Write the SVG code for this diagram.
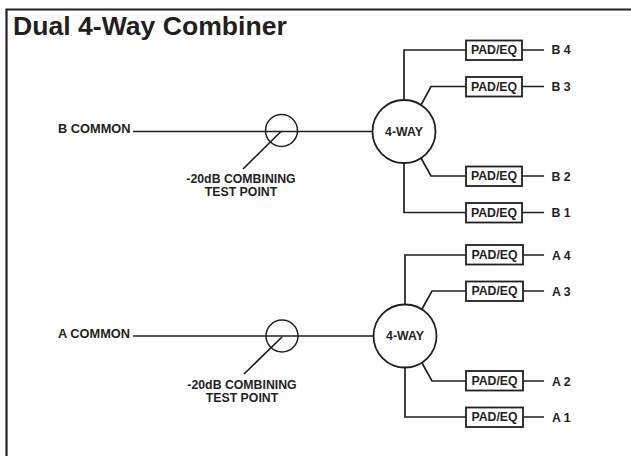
<svg xmlns="http://www.w3.org/2000/svg" width="631" height="456" viewBox="0 0 631 456">
<style>
text{font-family:"Liberation Sans",Arial,sans-serif;font-weight:bold;fill:#231f20}
.l{font-size:12.300px}
.c{font-size:12.800px}
.m{text-anchor:middle}
.w{fill:none;stroke:#231f20;stroke-width:1.700}
.n{fill:#fff;stroke:#231f20;stroke-width:1.800}
.t{fill:none;stroke:#231f20;stroke-width:1.500}
</style>
<rect width="631" height="456" fill="#fff"/>
<path d="M6.500 456V9.500H631" fill="none" stroke="#231f20" stroke-width="2.200"/>
<text x="13" y="35" font-size="26.600">Dual 4-Way Combiner</text>
<g id="connectors">
<path class="w" d="M133 131.500H373M404 100V50H466M421 105L431 86.500H466M421 158L431 176H466M404 163V212.500H466"/>
<path class="w" d="M522 50H544M522 86.500H544M522 176H544M522 212.500H544"/>
<path class="w" d="M133 336H374M405 305V255H466M422 309L432 291H466M422 363L432 381H466M405 367V417H466"/>
<path class="w" d="M523 255H544M523 291H544M523 381H544M523 417H544"/>
<path class="w" d="M281 131.500L243 169M282 337L244 374"/>
</g>
<g id="tp-b"><circle class="t" cx="281.500" cy="130.500" r="16"/><text class="l m" x="241" y="183">-20dB COMBINING</text><text class="l m" x="241" y="196">TEST POINT</text></g>
<g id="tp-a"><circle class="t" cx="282" cy="336" r="16"/><text class="l m" x="242" y="388.500">-20dB COMBINING</text><text class="l m" x="242" y="401.500">TEST POINT</text></g>
<g id="b-common"><text class="c" x="58" y="133">B COMMON</text></g>
<g id="a-common"><text class="c" x="58" y="338">A COMMON</text></g>
<g id="way-b"><circle class="n" cx="404" cy="131.500" r="31.500"/><text class="l m" x="404" y="136">4-WAY</text></g>
<g id="way-a"><circle class="n" cx="405" cy="336" r="31.500"/><text class="l m" x="405" y="340">4-WAY</text></g>
<g id="pad-b4"><rect class="n" x="466" y="40.500" width="56" height="19.500"/><text class="l m" x="494" y="54.300">PAD/EQ</text><text class="l" x="551.500" y="54.300">B 4</text></g>
<g id="pad-b3"><rect class="n" x="466" y="77" width="56" height="19.500"/><text class="l m" x="494" y="90.700">PAD/EQ</text><text class="l" x="551.500" y="91">B 3</text></g>
<g id="pad-b2"><rect class="n" x="466" y="166.500" width="56" height="19.500"/><text class="l m" x="494" y="180">PAD/EQ</text><text class="l" x="551.500" y="180.700">B 2</text></g>
<g id="pad-b1"><rect class="n" x="466" y="203" width="56" height="19.500"/><text class="l m" x="494" y="216.700">PAD/EQ</text><text class="l" x="551.500" y="217">B 1</text></g>
<g id="pad-a4"><rect class="n" x="466" y="245" width="57" height="19.500"/><text class="l m" x="494.500" y="259.300">PAD/EQ</text><text class="l" x="552" y="260">A 4</text></g>
<g id="pad-a3"><rect class="n" x="466" y="281.500" width="57" height="19.500"/><text class="l m" x="494.500" y="295">PAD/EQ</text><text class="l" x="552" y="296">A 3</text></g>
<g id="pad-a2"><rect class="n" x="466" y="371" width="57" height="19.500"/><text class="l m" x="494.500" y="385">PAD/EQ</text><text class="l" x="552" y="385.700">A 2</text></g>
<g id="pad-a1"><rect class="n" x="466" y="407.500" width="57" height="19.500"/><text class="l m" x="494.500" y="421">PAD/EQ</text><text class="l" x="552" y="421.500">A 1</text></g>
</svg>
